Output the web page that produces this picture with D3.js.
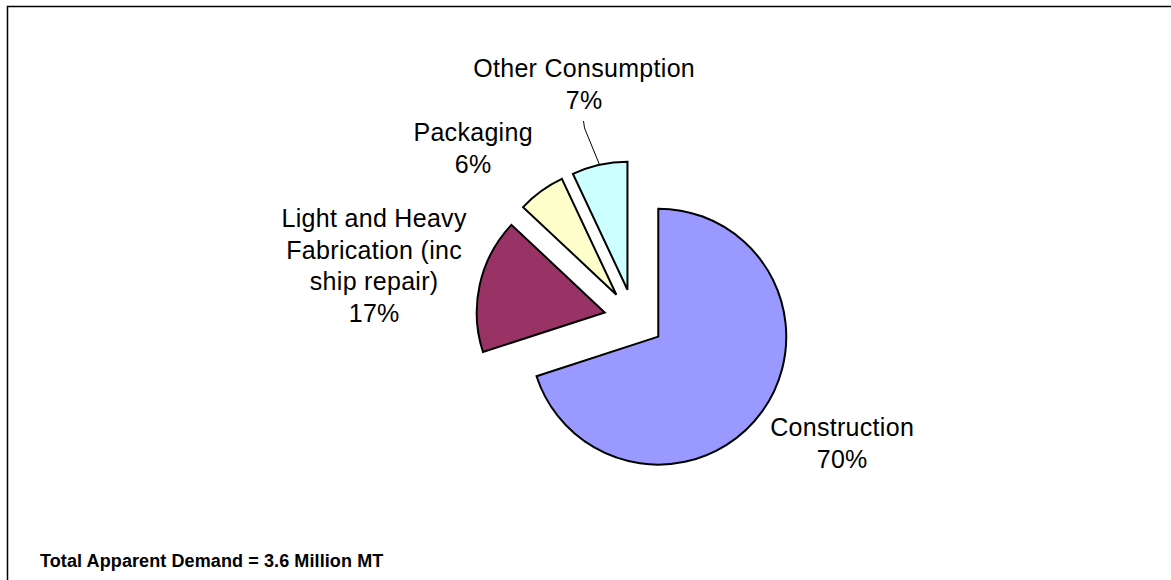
<!DOCTYPE html>
<html>
<head>
<meta charset="utf-8">
<script src="https://cdn.jsdelivr.net/npm/d3@7"></script>
<style>
  html, body { margin: 0; padding: 0; background: #fff; }
  svg { display: block; }
  text { font-family: "Liberation Sans", Arial, sans-serif; fill: #000; }
</style>
</head>
<body>
<svg id="chart" width="1171" height="580"></svg>
<script>
// Apparent demand by end use (share of total, %)
const categories = [
  "Construction",
  "Light and Heavy Fabrication (inc ship repair)",
  "Packaging",
  "Other Consumption"
];
const shares = [70, 17, 6, 7];
const colors = ["#9999FF", "#993366", "#FFFFCC", "#CCFFFF"];
const labelLines = [
  ["Construction", "70%"],
  ["Light and Heavy", "Fabrication (inc", "ship repair)", "17%"],
  ["Packaging", "6%"],
  ["Other Consumption", "7%"]
];
const footnote = "Total Apparent Demand = 3.6 Million MT";

const svg = d3.select("#chart");
const W = 1171, H = 580;

// frame
svg.append("path")
  .attr("d", `M7.5,${H} L7.5,6.5 L${W},6.5`)
  .attr("fill", "none")
  .attr("stroke", "#000")
  .attr("stroke-width", 1.5);

const cx = 634, cy = 319, radius = 128, explode = 30;

const pie = d3.pie().sort(null).value(d => d)
  .startAngle(0).endAngle(2 * Math.PI);
const arcs = pie(shares);
const arc = d3.arc().innerRadius(0).outerRadius(radius);

const offset = a => {
  const m = (a.startAngle + a.endAngle) / 2;
  return [Math.sin(m) * explode, -Math.cos(m) * explode];
};

const g = svg.append("g").attr("transform", `translate(${cx},${cy})`);

g.selectAll("path.slice")
  .data(arcs)
  .join("path")
  .attr("class", "slice")
  .attr("transform", d => `translate(${offset(d)})`)
  .attr("d", arc)
  .attr("fill", (d, i) => colors[i])
  .attr("stroke", "#000")
  .attr("stroke-width", 2)
  .attr("stroke-linejoin", "miter");

// data labels
const labelPos = [
  { x: 842, y: 436 },
  { x: 374, y: 227 },
  { x: 473, y: 141 },
  { x: 584, y: 77 }
];
const lineH = 31.5;

labelLines.forEach((lines, i) => {
  const t = svg.append("text")
    .attr("text-anchor", "middle")
    .attr("font-size", 25)
    .attr("letter-spacing", 0.3);
  lines.forEach((s, k) => {
    t.append("tspan")
      .attr("x", labelPos[i].x + 0.15)
      .attr("y", labelPos[i].y + k * lineH)
      .text(s);
  });
});

// leader line for "Other Consumption"
const other = arcs[3];
const om = (other.startAngle + other.endAngle) / 2;
const [ox, oy] = offset(other);
const ex = cx + ox + Math.sin(om) * radius;
const ey = cy + oy - Math.cos(om) * radius;
svg.append("polyline")
  .attr("points", [[583.5, 121], [584.5, 128], [ex, ey]].map(p => p.join(",")).join(" "))
  .attr("fill", "none")
  .attr("stroke", "#000")
  .attr("stroke-width", 1);

// footnote
svg.append("text")
  .attr("x", 40)
  .attr("y", 567)
  .attr("font-size", 18)
  .attr("font-weight", "bold")
  .attr("letter-spacing", 0.1)
  .text(footnote);
</script>
</body>
</html>
